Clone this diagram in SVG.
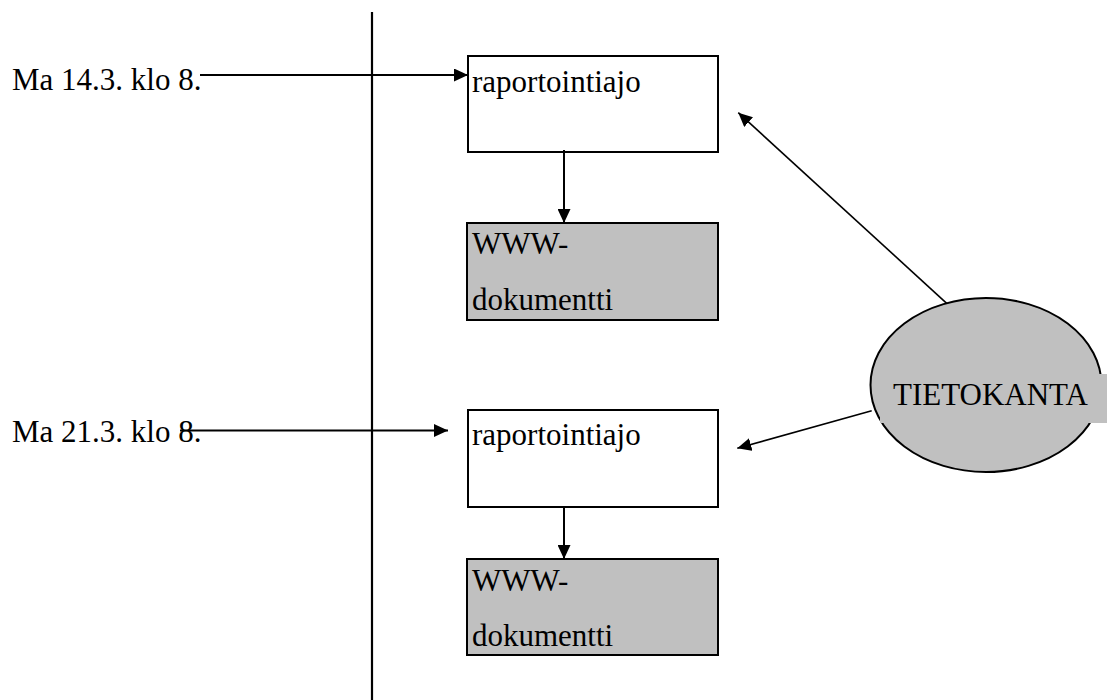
<svg xmlns="http://www.w3.org/2000/svg" width="1107" height="700" viewBox="0 0 1107 700">
<style>
.t{font-family:"Liberation Serif","Times New Roman",serif;font-size:31px;fill:#000}
.box{fill:#fff;stroke:#000;stroke-width:2}
.doc{fill:#c0c0c0;stroke:#000;stroke-width:2}
.c{stroke:#000;stroke-width:2;fill:none}
.d{stroke:#000;stroke-width:1.6;fill:none}
</style>
<defs>
<marker id="ah" markerUnits="userSpaceOnUse" markerWidth="15" markerHeight="13" refX="14" refY="6.5" orient="auto">
<path d="M0,0 L14,6.5 L0,13 z" fill="#000"/>
</marker>
</defs>
<rect width="1107" height="700" fill="#fff"/>
<line x1="372" y1="12" x2="372" y2="700" stroke="#000" stroke-width="2.2"/>
<g id="label1"><text class="t" x="12" y="90">Ma 14.3. klo 8.</text></g>
<g id="label2"><text class="t" x="12" y="442">Ma 21.3. klo 8.</text></g>
<g id="job1"><rect class="box" x="468" y="56" width="250" height="96"/><text class="t" x="472" y="92">raportointiajo</text></g>
<g id="doc1"><rect class="doc" x="467" y="223" width="251" height="97"/><text class="t" x="472" y="254">WWW-</text><text class="t" x="472" y="310">dokumentti</text></g>
<g id="job2"><rect class="box" x="468" y="410" width="250" height="97"/><text class="t" x="472" y="445">raportointiajo</text></g>
<g id="doc2"><rect class="doc" x="467" y="559" width="251" height="96"/><text class="t" x="472" y="591">WWW-</text><text class="t" x="472" y="646">dokumentti</text></g>
<g id="db"><ellipse cx="986" cy="385" rx="115.5" ry="87" fill="#c0c0c0" stroke="#000" stroke-width="2"/><rect x="880" y="374" width="227" height="49" fill="#c0c0c0"/><text class="t" x="893" y="405">TIETOKANTA</text></g>
<g id="connectors">
<line class="c" x1="200" y1="75" x2="468" y2="75" marker-end="url(#ah)"/>
<line class="c" x1="180" y1="430.5" x2="448" y2="430.5" marker-end="url(#ah)"/>
<line class="c" x1="564" y1="150" x2="564" y2="223" marker-end="url(#ah)"/>
<line class="c" x1="564" y1="507" x2="564" y2="559" marker-end="url(#ah)"/>
<line class="d" x1="946.7" y1="303.3" x2="738.3" y2="112.7" marker-end="url(#ah)"/>
<line class="d" x1="871.7" y1="410.7" x2="737.3" y2="448.3" marker-end="url(#ah)"/>
</g>
</svg>
